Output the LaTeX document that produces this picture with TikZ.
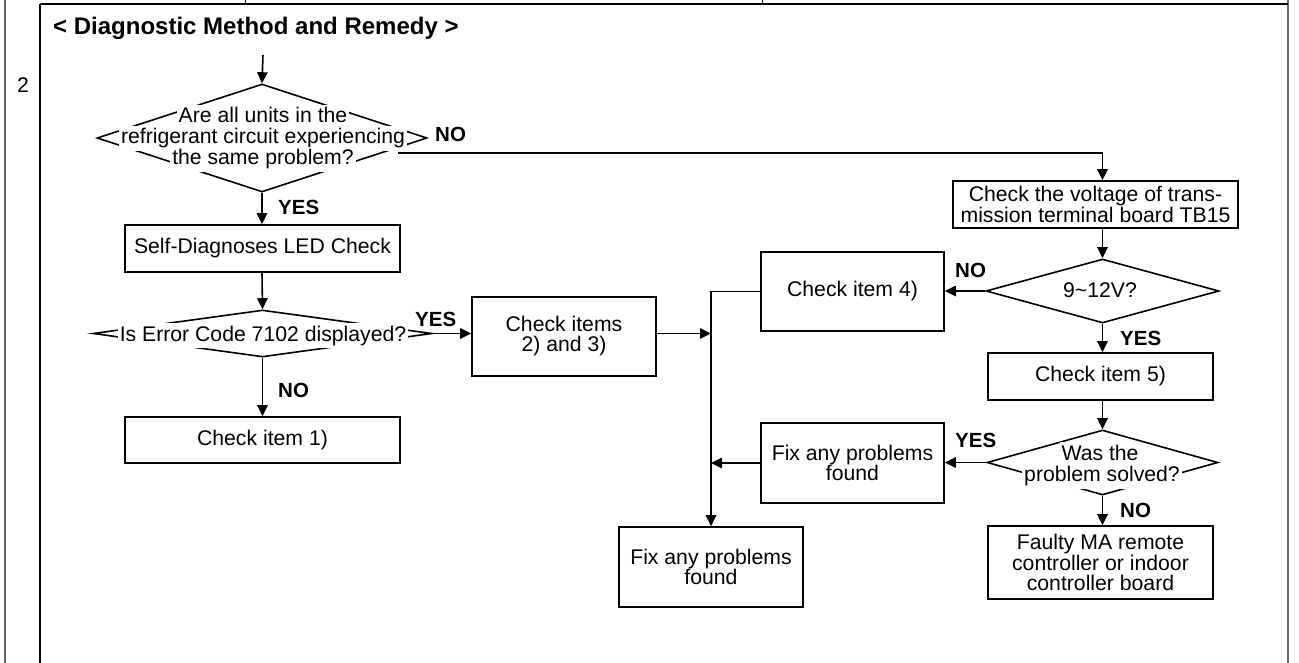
\documentclass[tikz,border=0pt]{standalone}
\usepackage{fontspec}
\setmainfont{Liberation Sans}
\usetikzlibrary{shapes.geometric,arrows.meta,calc}
\newcommand\myfs{\fontsize{21.2}{20.5}\selectfont}
\newcommand\myfsb{\fontsize{21.2}{20}\selectfont}
\begin{document}
\begin{tikzpicture}[x=1pt,y=-1pt,
  every node/.style={inner sep=0pt},
  box/.style={draw, line width=1.6pt, align=center, font=\myfs, inner sep=0pt},
  dia/.style={draw, diamond, line width=1.6pt, inner sep=0pt},
  dtxt/.style={fill=white, font=\myfs, inner xsep=2pt, inner ysep=2.5pt, text height=15.5pt, text depth=4.5pt, anchor=base},
  lbl/.style={font=\bfseries\fontsize{20.5}{20.5}\selectfont, anchor=base west},
  arr/.style={-{Triangle[length=11pt,width=10.5pt]}, line width=1.6pt},
]
\useasboundingbox (0,0) rectangle (1299,663);
% frame
\draw[line width=2.5pt, black!60] (5,0) -- (5,663);
\draw[line width=2.5pt, black!60] (1288,0) -- (1288,663);
\draw[line width=1.6pt] (40,4.5) -- (40,663);
\draw[line width=2pt] (40,4.5) -- (1288,4.5);
\draw[line width=1pt] (245,0) -- (245,4);
\draw[line width=1pt] (762,0) -- (762,4);
% title and number
\node[font=\bfseries\fontsize{24}{24}\selectfont, anchor=base west] (title) at (53,35) {< Diagnostic Method and Remedy >};
\node[font=\myfs, anchor=base] (num) at (23,93) {2};
% entry
\coordinate (start) at (263,55);
% diamond 1
\node[dia, minimum width=330pt, minimum height=108pt] (d1) at (262,138) {};
\node[dtxt] (d1a) at (263,123) {Are all units in the};
\node[dtxt] (d1b) at (263,144) {refrigerant circuit experiencing};
\node[dtxt] (d1c) at (263,165) {the same problem?};
% left column
\node[box, minimum width=275pt, minimum height=47pt] (b1) at (262.5,248.5) {Self-Diagnoses LED Check};
\node[dia, minimum width=339pt, minimum height=47pt] (d2) at (262.5,333.5) {};
\node[dtxt] (d2a) at (263,341) {Is Error Code 7102 displayed?};
\node[box, minimum width=275pt, minimum height=46pt] (b1c) at (262.5,440) {Check item 1)};
\node[box, font=\myfsb, minimum width=184pt, minimum height=79pt] (b2) at (564,336.5) {Check items\\2) and 3)};
% middle column
\node[box, minimum width=183pt, minimum height=79pt] (b4) at (852.5,291.5) {Check item 4)};
\node[box, minimum width=183pt, minimum height=80pt] (b6) at (852.5,463) {Fix any problems\\found};
\node[box, minimum width=184pt, minimum height=80pt] (b8) at (711,567) {Fix any problems\\found};
% right column
\node[box, font=\fontsize{21.2}{19.5}\selectfont, minimum width=285pt, minimum height=47pt] (b3) at (1095.5,204.5) {Check the voltage of trans-\\mission terminal board TB15};
\node[dia, minimum width=233pt, minimum height=64pt] (d3) at (1102.5,291) {};
\node[dtxt, fill=none] (d3a) at (1100,297.5) {9\char`~12V?};
\node[box, minimum width=225pt, minimum height=47pt] (b5) at (1100.5,376.5) {Check item 5)};
\node[dia, minimum width=231pt, minimum height=65pt] (d4) at (1102.5,462.5) {};
\node[dtxt] (d4a) at (1100,460) {Was the};
\node[dtxt] (d4b) at (1102,481.5) {problem solved?};
\node[box, minimum width=225pt, minimum height=73pt] (b7) at (1100.5,562.5) {Faulty MA remote\\controller or indoor\\controller board};
% labels
\node[lbl] (lno1) at (435,142) {NO};
\node[lbl] (lyes1) at (278,215) {YES};
\node[lbl] (lyes2) at (415,326) {YES};
\node[lbl] (lno2) at (278,397) {NO};
\node[lbl] (lno3) at (955,277) {NO};
\node[lbl] (lyes3) at (1120,345) {YES};
\node[lbl] (lyes4) at (955,447) {YES};
\node[lbl] (lno4) at (1120,517) {NO};
% connectors
\coordinate (n1) at (398,153);
\draw[arr] (start) -- (d1.north);
\draw[arr] (d1.south) -- (d1.south |- b1.north);
\draw[arr] (d1.south |- b1.south) -- (d2.north);
\draw[arr] (d2.east) -- (d2.east -| b2.west);
\draw[arr] (d2.south) -- (d2.south |- b1c.north);
\draw[arr] (n1) -| (b3.north -| d3.north);
\draw[arr] (b3.south -| d3.north) -- (d3.north);
\draw[arr] (d3.west) -- (d3.west -| b4.east);
\draw[arr] (d3.south) -- (d3.south |- b5.north);
\draw[arr] (d4.north |- b5.south) -- (d4.north);
\draw[arr] (d4.west) -- (d4.west -| b6.east);
\draw[arr] (d4.south) -- (d4.south |- b7.north);
\draw[arr] (b2.east |- d2.east) -- (d2.east -| b8.north);
\draw[arr] (b6.west) -- (b6.west -| b8.north);
\draw[arr] (b4.west) -- (b4.west -| b8.north) -- (b8.north);
\end{tikzpicture}
\end{document}
